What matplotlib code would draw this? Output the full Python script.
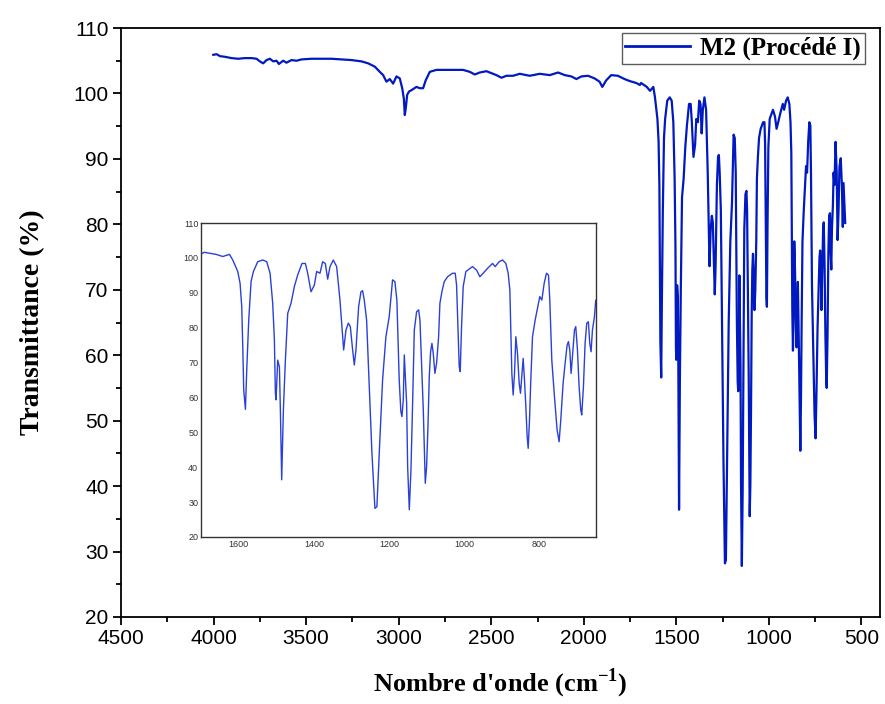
import matplotlib
matplotlib.use("Agg")
import matplotlib.pyplot as plt
from matplotlib.ticker import MultipleLocator

# ---- data (wavenumber cm-1, transmittance %) ----
wavenumber = [
    4001.6, 3983.6, 3965.6, 3938.7, 3902.7, 3866.7, 3830.7, 3794.7, 3767.8, 3749.8,
    3731.8, 3713.8, 3695.8, 3677.8, 3659.8, 3647.2, 3624, 3606, 3579, 3552,
    3525, 3471, 3417, 3363, 3309, 3255, 3201, 3165, 3129, 3102,
    3084, 3066, 3048, 3030, 3012, 2994, 2981, 2972, 2967, 2962,
    2954, 2944, 2931, 2904, 2886, 2868, 2854, 2832, 2796, 2724,
    2652, 2616, 2589, 2562, 2526, 2499, 2472, 2445, 2418, 2382,
    2346, 2292, 2238, 2184, 2139, 2103, 2067, 2040, 2013, 1977,
    1942, 1915, 1900, 1879, 1852, 1816, 1780, 1753, 1717,
    1697, 1690.8, 1659.8, 1642.1, 1624.4, 1615.6, 1602.3, 1596.1, 1591.7, 1589,
    1586.4, 1581.9, 1578.4, 1573.1, 1566.9, 1560.7, 1549.2, 1535.9, 1525.3, 1516.4,
    1509.4, 1504.9, 1502.3, 1500.5, 1496.1, 1491.6, 1489, 1485.5, 1481, 1475.7,
    1469.5, 1460.7, 1451.8, 1443, 1431.5, 1422.6, 1416.4, 1407.6, 1398.7, 1392.5,
    1383.7, 1376.6, 1369.5, 1363.3, 1357.1, 1348.3, 1339.4, 1330.6, 1325.3, 1320.8,
    1314.7, 1308.4, 1303.1, 1296.9, 1292.5, 1288.1, 1281, 1274.8, 1270.4, 1266,
    1259.8, 1252.7, 1245.6, 1237.7, 1232.4, 1226.2, 1217.3, 1208.5, 1199.6, 1190.8,
    1184.6, 1179.3, 1173.1, 1168.7, 1165.8, 1162.3, 1159.6, 1156.9, 1153.4, 1150.7,
    1146.3, 1141.9, 1137.5, 1133, 1126.8, 1121.5, 1118, 1114.4, 1109.1, 1103.8,
    1100.3, 1096.7, 1093.2, 1089.7, 1086.1, 1082.6, 1078.2, 1073.7, 1068.4, 1064.9,
    1059.6, 1053.4, 1044.5, 1031.3, 1024.2, 1020.6, 1017.1, 1013.6, 1010.9, 1007.4,
    1003, 995.9, 978.2, 967.5, 958.7, 949.9, 938.3, 925, 918, 907.4,
    898.5, 889.6, 883.5, 879, 876.4, 873.7, 870.2, 866.6, 863.1, 858.7,
    854.2, 850.7, 847.2, 843.6, 840.1, 836.5, 833, 830.3, 826.8, 823.3,
    818.8, 811.7, 805.6, 799.4, 794, 787.8, 781.7, 776.3, 772.8, 767.5,
    760.4, 753.4, 748, 743.6, 737.4, 732.1, 726.8, 723.3, 719.7, 716.2,
    712.6, 707.3, 703.8, 699.3, 694.9, 690.5, 687.9, 683.4, 679, 674.6,
    670.2, 666.6, 663.1, 659.5, 654.2, 650.7, 646, 640, 634, 629,
    624, 619, 612, 606, 601, 597, 592, 588,
]
transmittance = [
    105.9, 106.0, 105.7, 105.6, 105.4, 105.3, 105.4, 105.4, 105.3, 104.9,
    104.6, 105.1, 105.3, 104.9, 105.0, 104.5, 105.0, 104.7, 105.1, 105.0,
    105.2, 105.3, 105.3, 105.3, 105.2, 105.1, 104.9, 104.6, 104.1, 103.3,
    102.8, 101.8, 102.2, 101.5, 102.6, 102.3, 100.8, 99.2, 96.7, 97.7,
    99.8, 100.3, 100.5, 101.0, 100.8, 100.8, 102.0, 103.3, 103.6, 103.6,
    103.6, 103.3, 102.9, 103.2, 103.4, 103.1, 102.8, 102.4, 102.7, 102.7,
    103.0, 102.7, 103.0, 102.8, 103.2, 102.8, 102.6, 102.2, 102.6, 102.7,
    102.3, 101.8, 101.0, 102.0, 102.8, 102.7, 102.2, 101.9, 101.6,
    101.3, 101.6, 101.0, 100.4, 101.0, 99.4, 96.1, 92.7, 86.0, 74.6,
    62.1, 56.6, 67.9, 82.2, 93.2, 96.1, 98.9, 99.4, 98.9, 95.6,
    87.0, 76.5, 61.2, 59.3, 70.7, 68.8, 56.4, 36.4, 56.4, 70.7,
    84.1, 87.0, 91.8, 95.1, 98.4, 98.4, 95.6, 90.3, 92.2, 96.1,
    95.6, 98.9, 98.4, 93.9, 97.5, 99.4, 97.5, 87.9, 80.3, 73.6,
    79.3, 81.3, 80.3, 73.6, 69.3, 73.6, 86.0, 90.3, 90.6, 87.9,
    82.2, 63.1, 44.0, 28.2, 28.7, 44.0, 65.0, 77.4, 83.2, 93.7,
    93.2, 87.9, 65.0, 55.9, 54.5, 59.3, 72.2, 66.0, 58.3, 40.2,
    27.8, 39.2, 58.3, 79.3, 84.6, 85.1, 82.2, 71.7, 56.4, 35.4,
    40.2, 51.6, 66.0, 73.1, 75.5, 72.6, 66.9, 69.8, 77.4, 87.0,
    90.3, 93.2, 94.6, 95.6, 95.6, 92.2, 80.3, 68.8, 67.4, 80.3,
    91.8, 96.1, 97.5, 96.5, 94.6, 95.6, 97.0, 98.4, 97.5, 98.9,
    99.4, 98.4, 95.6, 90.8, 79.3, 66.9, 60.7, 66.9, 77.4, 72.6,
    64.1, 61.2, 66.0, 71.2, 65.0, 57.4, 48.8, 45.4, 53.5, 65.0,
    77.4, 82.2, 85.5, 88.9, 87.9, 92.7, 95.6, 95.1, 87.9, 70.7,
    60.2, 50.7, 47.3, 53.6, 64.1, 69.8, 75.0, 76.0, 73.6, 66.9,
    71.7, 79.3, 80.3, 73.6, 63.1, 56.4, 55.0, 63.1, 75.5, 81.3,
    81.7, 75.5, 73.1, 79.3, 83.1, 87.9, 86.0, 92.6, 88.0, 77.6,
    82.0, 88.8, 90.1, 86.0, 79.6, 86.3, 83.0, 80.2,
]
series_label = "M2 (Procédé I)"

main_xticks = [4500, 4000, 3500, 3000, 2500, 2000, 1500, 1000, 500]
main_yticks = [20, 30, 40, 50, 60, 70, 80, 90, 100, 110]
inset_xticks = [1600, 1400, 1200, 1000, 800]
inset_yticks = [20, 30, 40, 50, 60, 70, 80, 90, 100, 110]

# ---- styling ----
plt.rcParams['mathtext.fontset'] = 'custom'
plt.rcParams['mathtext.rm'] = 'Liberation Serif:bold'
plt.rcParams['mathtext.bf'] = 'Liberation Serif:bold'

main_color = "#0019c0"
inset_color = "#2a40d8"

fig = plt.figure(figsize=(8.85, 7.04), dpi=100)
ax = fig.add_axes([121/885, 1-617/704, (880-121)/885, (617-28)/704])

ax.plot(wavenumber, transmittance, color=main_color, lw=1.6, label=series_label)
ax.set_xlim(4500, 400)
ax.set_ylim(20, 110)
ax.set_xticks(main_xticks)
ax.set_yticks(main_yticks)
ax.xaxis.set_minor_locator(MultipleLocator(250))
ax.yaxis.set_minor_locator(MultipleLocator(5))
for s in ax.spines.values():
    s.set_linewidth(1.3)
ax.tick_params(which='major', direction='out', length=6, width=1.3,
               labelsize=15, pad=3)
ax.tick_params(which='minor', direction='out', length=3.5, width=1.3)
for lab in ax.get_xticklabels() + ax.get_yticklabels():
    lab.set_fontfamily('Liberation Sans')

ax.set_xlabel(r"Nombre d'onde (cm$^{\mathbf{-1}}$)", fontsize=19,
              fontfamily='Liberation Serif', fontweight='bold', labelpad=13)
ax.set_ylabel("Transmittance (%)", fontsize=20,
              fontfamily='Liberation Serif', fontweight='bold', labelpad=20)

leg = ax.legend(loc='upper right', bbox_to_anchor=(0.980, 0.9915),
                prop={'family': 'Liberation Serif', 'weight': 'bold', 'size': 18},
                frameon=True, fancybox=False, edgecolor='#333333',
                handlelength=2.6, handletextpad=0.4, borderpad=0.15,
                borderaxespad=0.0)
leg.get_frame().set_linewidth(1.0)
for h in leg.get_lines():
    h.set_linewidth(2.0)

# ---- inset ----
ins = fig.add_axes([201/885, 1-537/704, (596-201)/885, (537-223)/704])
ins.plot(wavenumber, transmittance, color=inset_color, lw=1.0)
ins.set_xlim(1700, 650)
ins.set_ylim(20, 110)
ins.set_xticks(inset_xticks)
ins.set_yticks(inset_yticks)
ins.tick_params(length=0, labelsize=6.5, pad=2, colors='#333333')
for lab in ins.get_xticklabels() + ins.get_yticklabels():
    lab.set_fontfamily('Liberation Sans')
for s in ins.spines.values():
    s.set_linewidth(1.0)
    s.set_color('#333333')

fig.savefig("out.png", dpi=100)
